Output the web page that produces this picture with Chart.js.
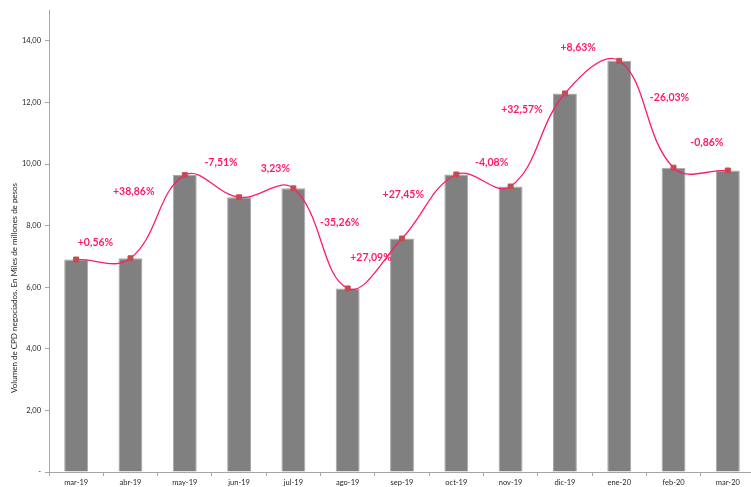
<!DOCTYPE html>
<html>
<head>
<meta charset="utf-8">
<script src="https://cdn.jsdelivr.net/npm/chart.js@4"></script>
<style>
  html, body { margin: 0; padding: 0; background: #fff; overflow: hidden; }
  #wrap { width: 760px; height: 487px; position: relative; }
</style>
</head>
<body>
<div id="wrap"><canvas id="cpdChart"></canvas></div>
<script>
const meses = ['mar-19', 'abr-19', 'may-19', 'jun-19', 'jul-19', 'ago-19', 'sep-19',
               'oct-19', 'nov-19', 'dic-19', 'ene-20', 'feb-20', 'mar-20'];
const volumen = [6.90, 6.94, 9.64, 8.92, 9.21, 5.96, 7.58, 9.66, 9.27, 12.29, 13.35, 9.88, 9.79];
const variacion = ['', '+0,56%', '+38,86%', '-7,51%', '3,23%', '-35,26%', '+27,09%',
                   '+27,45%', '-4,08%', '+32,57%', '+8,63%', '-26,03%', '-0,86%'];

// where each % label sits relative to its point (px)
const labelOffsets = [null, [-35, -16], [-51, 17], [-18, -35], [-18, -20], [-8, -66], [-31, 19],
                      [-53, 20], [-19, -24], [-43, 16], [-41, -13], [-4, -70], [-21, -28]];

const pctLabels = {
  id: 'pctLabels',
  afterDatasetsDraw(chart) {
    const ctx = chart.ctx;
    const meta = chart.getDatasetMeta(1);
    ctx.save();
    ctx.font = 'bold 10.5px Lato';
    ctx.fillStyle = '#ff1a6e';
    ctx.textAlign = 'center';
    ctx.textBaseline = 'middle';
    for (let i = 1; i < variacion.length; i++) {
      const pt = meta.data[i];
      ctx.fillText(variacion[i], pt.x + labelOffsets[i][0], pt.y + labelOffsets[i][1]);
    }
    // y axis title
    ctx.translate(14, 288);
    ctx.rotate(-Math.PI / 2);
    ctx.font = '8px Lato';
    ctx.fillStyle = '#262626';
    ctx.fillText('Volumen de CPD negociados. En Miles de millones de pesos', 0, 0);
    ctx.restore();
  }
};

const ctx = document.getElementById('cpdChart').getContext('2d');
new Chart(ctx, {
  type: 'bar',
  data: {
    labels: meses,
    datasets: [{
      type: 'bar',
      data: volumen,
      backgroundColor: '#808080',
      borderColor: '#a8a8a8',
      borderWidth: 1,
      categoryPercentage: 1,
      barPercentage: 0.44,
      order: 1
    }, {
      type: 'line',
      data: volumen,
      borderColor: '#ff1a6e',
      borderWidth: 1.3,
      tension: 0.4,
      pointStyle: 'rect',
      pointRadius: 3.5,
      pointBackgroundColor: '#c9475a',
      pointBorderColor: '#c0504d',
      pointBorderWidth: 1,
      clip: false,
      order: 0
    }]
  },
  options: {
    responsive: true,
    maintainAspectRatio: false,
    animation: false,
    layout: { padding: { top: 10, right: 2.5, left: 0, bottom: 0 } },
    plugins: { legend: { display: false }, tooltip: { enabled: false } },
    scales: {
      x: {
        grid: { display: true, drawOnChartArea: false, drawTicks: true, tickLength: 4, color: '#a6a6a6', offset: true },
        border: { color: '#a6a6a6' },
        ticks: { font: { family: 'Lato', size: 7.5 }, color: '#262626', padding: 2, maxRotation: 0 },
        afterFit: (scale) => { scale.height = 15; }
      },
      y: {
        min: 0,
        max: 15,
        grid: { display: true, drawOnChartArea: false, drawTicks: true, tickLength: 4, color: '#a6a6a6' },
        border: { color: '#a6a6a6' },
        ticks: {
          stepSize: 2,
          padding: 4,
          font: { family: 'Lato', size: 7.5 },
          color: '#262626',
          callback: (v) => v === 0 ? '-' : v.toFixed(2).replace('.', ',')
        },
        afterBuildTicks: (scale) => { scale.ticks = scale.ticks.filter(t => t.value <= 14); },
        afterFit: (scale) => { scale.width = 49; }
      }
    }
  },
  plugins: [pctLabels]
});
</script>
</body>
</html>
